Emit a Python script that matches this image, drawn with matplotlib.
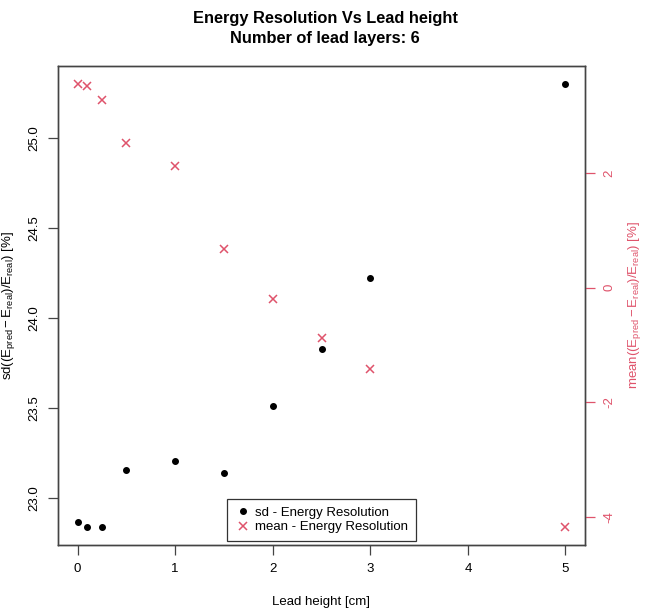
import numpy as np
import matplotlib
matplotlib.use("Agg")
import matplotlib.pyplot as plt

plt.rcParams['font.family'] = ['Liberation Sans', 'DejaVu Sans']
plt.rcParams['mathtext.fontset'] = 'custom'
plt.rcParams['mathtext.rm'] = 'Liberation Sans'
plt.rcParams['mathtext.it'] = 'Liberation Sans'
plt.rcParams['axes.unicode_minus'] = False

lead_height = [0, 0.1, 0.25, 0.5, 1, 1.5, 2, 2.5, 3, 5]
sd_res = [22.87, 22.84, 22.84, 23.16, 23.21, 23.14, 23.51, 23.83, 24.22, 25.30]
mean_res = [3.56, 3.52, 3.28, 2.52, 2.13, 0.67, -0.19, -0.88, -1.41, -4.18]

red = '#DF536B'
axcol = '#444444'

fig = plt.figure(figsize=(6.5, 6.08), dpi=100)
ax = fig.add_axes([58 / 650, 1 - 545 / 608, 527 / 650, 479 / 608])
ax2 = ax.twinx()

h1, = ax.plot(lead_height, sd_res, 'o', color='black', ms=4, linestyle='none',
              label='sd - Energy Resolution')
h2, = ax2.plot(lead_height, mean_res, 'x', color=red, ms=6, mew=1.1, linestyle='none',
               label='mean - Energy Resolution')


def pad(v):
    lo, hi = min(v), max(v)
    d = (hi - lo) * 0.04
    return lo - d, hi + d


ax.set_xlim(pad(lead_height))
ax.set_ylim(pad(sd_res))
ax2.set_ylim(pad(mean_res))

ax.set_xticks([0, 1, 2, 3, 4, 5])
ax.set_yticks([23.0, 23.5, 24.0, 24.5, 25.0])
ax2.set_yticks([-4, -2, 0, 2])

for a in (ax, ax2):
    for s in a.spines.values():
        s.set_color(axcol)
        s.set_linewidth(1.0)

ax.tick_params(axis='both', direction='out', length=7, width=0.9, color=axcol,
               labelsize=9.5, pad=6)
ax.tick_params(axis='y', labelrotation=90)
for lab in ax.get_yticklabels():
    lab.set_va('center')
ax2.tick_params(axis='y', direction='out', length=7, width=0.9, color=red,
                labelcolor=red, labelsize=9.5, labelrotation=90, pad=6)
for lab in ax2.get_yticklabels():
    lab.set_va('center')

ax.set_xlabel('Lead height [cm]', fontsize=9.5, labelpad=15)
ax.set_ylabel(r'sd(($\mathrm{E_{pred}} - \mathrm{E_{real}}$)/$\mathrm{E_{real}}$) [%]', fontsize=9.5)
ax.yaxis.set_label_coords(-0.077, 0.5)
ax2.set_ylabel(r'mean(($\mathrm{E_{pred}} - \mathrm{E_{real}}$)/$\mathrm{E_{real}}$) [%]',
               fontsize=9.5, color=red, labelpad=8)

fig.suptitle('Energy Resolution Vs Lead height\nNumber of lead layers: 6',
             fontsize=11.8, fontweight='bold', y=0.982, linespacing=1.4)

leg = ax.legend(handles=[h1, h2], loc='lower center', bbox_to_anchor=(0.5, 0.0),
                fontsize=9.5, frameon=True, fancybox=False, edgecolor='black',
                borderpad=0.6, handletextpad=0.3, handlelength=1.2,
                labelspacing=0.15, borderaxespad=0.3)
leg.get_frame().set_linewidth(0.9)

fig.savefig('out.png', dpi=100)
